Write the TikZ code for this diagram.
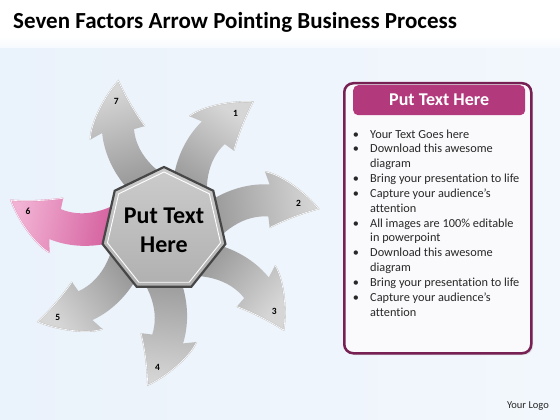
\documentclass[tikz,border=0pt]{standalone}
\usepackage{fontspec}
\setmainfont{Carlito}[Ligatures=NoCommon]
\usetikzlibrary{shapes.geometric}
\definecolor{bgB}{RGB}{234,242,251}
\definecolor{arrL}{RGB}{214,214,214}
\definecolor{arrD}{RGB}{132,132,132}
\definecolor{pinkL}{RGB}{242,178,212}
\definecolor{pinkD}{RGB}{200,62,136}
\definecolor{panelB}{RGB}{118,32,84}
\definecolor{panelF}{RGB}{250,250,252}
\definecolor{headD}{RGB}{178,58,124}
\definecolor{headL}{RGB}{214,112,170}
\definecolor{txt}{RGB}{40,40,40}
\newcommand{\arrowshape}{(7.7,-14.7) .. controls (30,22) and (75,38) .. (110.8,30.8) -- (108,44) .. controls (124,39) and (146,17) .. (156,0) .. controls (140,-2) and (122,-6) .. (105,-12) -- (105.2,-0.8) .. controls (83,4) and (57,-6) .. (32.3,-35.3) -- cycle}
\newcommand{\rimpath}{(108,44) .. controls (124,39) and (146,17) .. (156,0) .. controls (140,-2) and (122,-6) .. (105,-12)}
\tikzset{
  numlab/.style={font=\bfseries\fontsize{9.5}{10}\selectfont, text=black},
  bul/.style={anchor=base west, font=\fontsize{12.3}{13}\selectfont, text=txt, inner sep=0pt},
  bdot/.style={anchor=base, font=\fontsize{12.3}{13}\selectfont, text=txt, inner sep=0pt},
}
\begin{document}
\begin{tikzpicture}[x=1pt,y=1pt]
\useasboundingbox (0,0) rectangle (560,-420);
% background
\fill[white] (0,0) rectangle (560,-420);
\shade[left color=bgB, middle color=white, right color=bgB!60!white] (0,-42) rectangle (560,-420);
\shade[top color=white, bottom color=white!60!bgB] (0,-36) rectangle (560,-48);
% title
\node[anchor=base west, font=\bfseries\fontsize{23}{26}\selectfont, inner sep=0pt] (title) at (13,-29) {Seven Factors Arrow Pointing Business Process};
% grey arrows
\foreach \a/\n in {55.2/1, 7.8/2, -39.9/3, -96/4, -144/5, 107/7}{
  \pgfmathsetmacro\sa{\a-90}
  \begin{scope}[shift={(164,-230)}, rotate=\a]
    \shade[top color=arrL, bottom color=arrD, shading angle=\sa] \arrowshape;
    \draw[gray!55, line width=1.3pt] \rimpath;
    \draw[white, line width=0.6pt] \rimpath;
    \coordinate (lab\n) at (137,8);
  \end{scope}
  \node[numlab] (num\n) at (lab\n) {\n};
}
% pink arrow 6
\pgfmathsetmacro\sb{169-90}
\begin{scope}[shift={(164,-230)}, rotate=169]
  \shade[top color=pinkL, bottom color=pinkD, shading angle=\sb] \arrowshape;
  \draw[pinkD!60, line width=1.3pt] \rimpath;
  \draw[white, line width=0.6pt] \rimpath;
  \coordinate (lab6) at (137,8);
\end{scope}
\node[numlab] (num6) at (lab6) {6};
% hub
\node[regular polygon, regular polygon sides=7, minimum size=121pt, inner sep=0pt,
      top color=gray!40, bottom color=gray!62, draw=gray!55!black, line width=2.2pt,
      align=center, font=\bfseries\fontsize{24}{29}\selectfont] (hub) at (164,-230) {Put Text\\Here};
\node[regular polygon, regular polygon sides=7, minimum size=116pt, inner sep=0pt,
      draw=white, line width=0.9pt] (hubrim) at (164,-230) {};
% panel
\fill[gray!45, opacity=0.5, rounded corners=9pt] (346,-86) rectangle (533,-355);
\node[anchor=north west, draw=panelB, line width=2.5pt, fill=panelF, rounded corners=9pt,
      minimum width=187pt, minimum height=270pt, inner sep=0pt] (panel) at (343,-82) {};
\node[anchor=north west, rounded corners=5pt, minimum width=172pt, minimum height=30pt, inner sep=0pt,
      left color=headD, middle color=headL, right color=headD, text=white,
      font=\bfseries\fontsize{18}{21}\selectfont] (head) at (353,-85) {Put Text Here};
\foreach \t [count=\i from 0] in {Your Text Goes here, Download this awesome, diagram,
  Bring your presentation to life, Capture your audience’s, attention,
  All images are 100\% editable, in powerpoint, Download this awesome, diagram,
  Bring your presentation to life, Capture your audience’s, attention}{
  \node[bul] (line\i) at (370,{-(138+14.85*\i)}) {\t};
}
\foreach \i in {0,1,3,4,6,8,10,11}{
  \node[bdot] (dot\i) at (356,{-(138+14.85*\i)}) {•};
}
\node[font=\fontsize{10.5}{12}\selectfont, text=txt] (logo) at (528,-406) {Your Logo};
\end{tikzpicture}
\end{document}
